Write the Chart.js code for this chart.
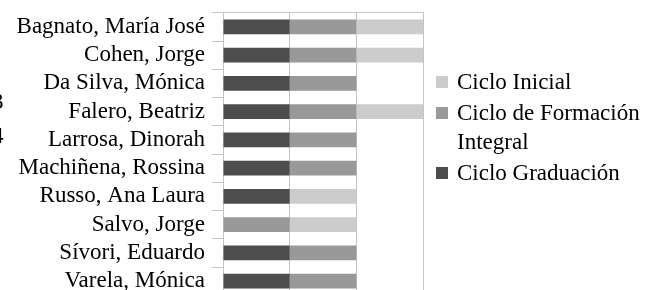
<!DOCTYPE html>
<html>
<head>
<meta charset="utf-8">
<script src="https://cdn.jsdelivr.net/npm/chart.js@4"></script>
<style>
    html, body { margin: 0; padding: 0; background: #fff; }
    body { width: 645px; height: 290px; overflow: hidden; position: relative; font-family: "Liberation Serif", "Times New Roman", serif; }
    #wrap { position: absolute; left: 0; top: 0; }
    #legend { position: absolute; left: 436px; top: 67px; width: 215px; font-size: 23px; line-height: 29px; color: #000; }
    .lg-item { display: flex; align-items: flex-start; margin-bottom: 2px; }
    .lg-box { flex: 0 0 12px; width: 12px; height: 12px; margin-top: 9px; margin-right: 9px; }
    .stray { position: absolute; font-size: 23px; line-height: 23px; color: #000; }
</style>
</head>
<body>
<div id="wrap"><canvas id="chart" width="645" height="308"></canvas></div>
<div id="legend"></div>
<div class="stray" style="left:-8px; top:90px;">3</div>
<div class="stray" style="left:-8px; top:124px;">4</div>

<script>
const names = [
    "Bagnato, María José",
    "Cohen, Jorge",
    "Da Silva, Mónica",
    "Falero, Beatriz",
    "Larrosa, Dinorah",
    "Machiñena, Rossina",
    "Russo, Ana Laura",
    "Salvo, Jorge",
    "Sívori, Eduardo",
    "Varela, Mónica"
];

// one unit per cycle the person teaches in
const cicloGraduacion = [1, 1, 1, 1, 1, 1, 1, 0, 1, 1];
const cicloFormacion  = [1, 1, 1, 1, 1, 1, 0, 1, 1, 1];
const cicloInicial    = [1, 1, 0, 1, 0, 0, 1, 1, 0, 0];

const gridColor = "#c4c4c4";

const chart = new Chart(document.getElementById("chart"), {
    type: "bar",
    data: {
        labels: names,
        datasets: [
            { label: "Ciclo Graduación", data: cicloGraduacion, backgroundColor: "#4d4d4d" },
            { label: "Ciclo de Formación Integral", data: cicloFormacion, backgroundColor: "#999999" },
            { label: "Ciclo Inicial", data: cicloInicial, backgroundColor: "#cccccc" }
        ]
    },
    options: {
        indexAxis: "y",
        responsive: false,
        animation: false,
        devicePixelRatio: 1,
        layout: { padding: { left: 0, right: 222, top: 11.5, bottom: 2 } },
        datasets: {
            bar: { barPercentage: 0.53, categoryPercentage: 1, borderWidth: 0 }
        },
        scales: {
            x: {
                position: "top",
                stacked: true,
                min: 0,
                max: 3,
                ticks: { display: false, stepSize: 1 },
                grid: { color: gridColor, lineWidth: 1, drawTicks: false },
                border: { display: true, color: gridColor, width: 1 }
            },
            y: {
                stacked: true,
                afterFit: (scale) => { scale.width = 223; },
                ticks: {
                    color: "#000",
                    padding: 7,
                    autoSkip: false,
                    font: { family: "Liberation Serif", size: 23, lineHeight: 0.5 }
                },
                grid: {
                    offset: true,
                    drawOnChartArea: false,
                    tickLength: 11,
                    color: gridColor,
                    lineWidth: 1
                },
                border: { display: true, color: gridColor, width: 1 }
            }
        },
        plugins: {
            legend: { display: false },
            tooltip: { enabled: false }
        }
    }
});

// ── LEGEND (reversed, like the original) ──
const legend = document.getElementById("legend");
chart.data.datasets.slice().reverse().forEach(ds => {
    const item = document.createElement("div");
    item.className = "lg-item";
    item.innerHTML = `<span class="lg-box" style="background:${ds.backgroundColor}"></span><span>${ds.label}</span>`;
    legend.appendChild(item);
});
</script>
</body>
</html>
